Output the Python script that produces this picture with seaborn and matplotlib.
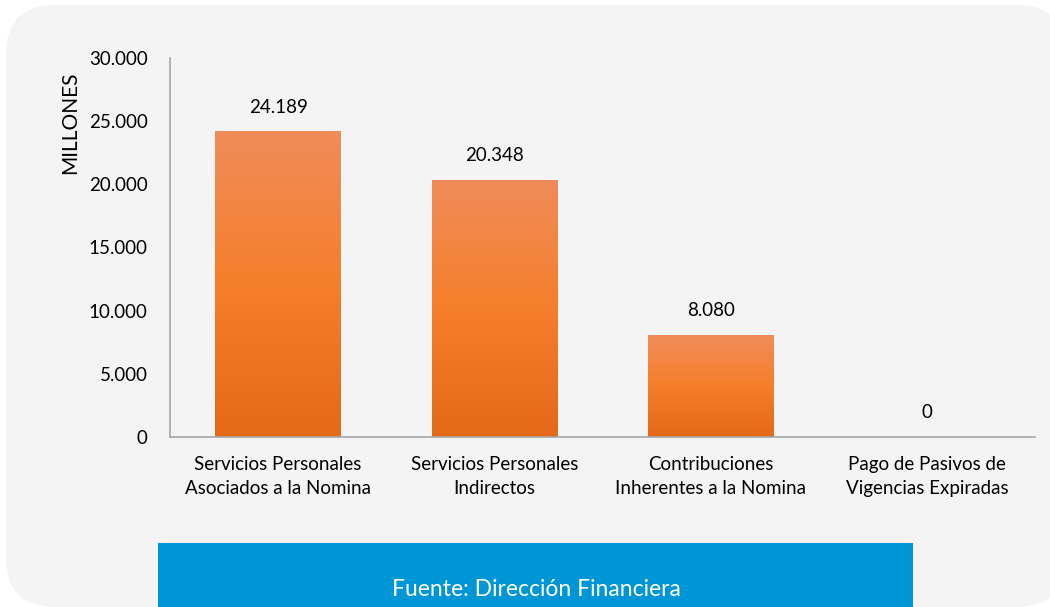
# Gasto de personal por concepto (millones)

import numpy as np
import pandas as pd
import matplotlib.pyplot as plt
import seaborn as sns
from matplotlib.colors import LinearSegmentedColormap
from matplotlib.patches import FancyBboxPatch, Rectangle
from matplotlib.transforms import IdentityTransform


# Daten
categorias = ['Servicios Personales\nAsociados a la Nomina',
              'Servicios Personales\nIndirectos',
              'Contribuciones\nInherentes a la Nomina',
              'Pago de Pasivos de\nVigencias Expiradas']
valores = [24189, 20348, 8080, 0]
y_ticks = [0, 5000, 10000, 15000, 20000, 25000, 30000]

df = pd.DataFrame({'Concepto': categorias, 'Valor': valores})


def punto_miles(v):
    return f'{v:,.0f}'.replace(',', '.')


sns.set_style('white')
plt.rcParams['font.family'] = ['Lato', 'DejaVu Sans']

W, H = 1050, 607
fig = plt.figure(figsize=(W / 100, H / 100), dpi=100)
fig.patch.set_facecolor('white')

# Hintergrund-Panel mit runden Ecken (in Pixeln, Ursprung unten links)
panel = FancyBboxPatch((6, 0), 1060, 602,
                       boxstyle='round,pad=0,rounding_size=50',
                       transform=IdentityTransform(), facecolor='#f4f4f4',
                       edgecolor='none', zorder=-2)
fig.patches.append(panel)

# Quelle-Box
box = Rectangle((158, 0), 913 - 158, 607 - 543,
                transform=IdentityTransform(), facecolor='#0096d6',
                edgecolor='none', zorder=-1)
fig.patches.append(box)
fig.text(536 / W, 1 - 589 / H, 'Fuente: Dirección Financiera', color='white',
         fontsize=16.5, ha='center', va='center', zorder=5)

ax = fig.add_axes([170 / W, 1 - 437 / H, 865 / W, 379 / H])
ax.set_facecolor('none')
ax.set_zorder(1)

sns.barplot(data=df, x='Concepto', y='Valor', color='#f57d28', width=0.58,
            ax=ax, saturation=1)

# Farbverlauf auf den Balken
cmap = LinearSegmentedColormap.from_list('naranja', ['#e46919', '#f57f2a', '#f08c5a'])
grad = np.linspace(0, 1, 256).reshape(-1, 1)
for p in ax.patches:
    x0 = p.get_x()
    h = p.get_height()
    if h <= 0:
        continue
    p.set_facecolor('none')
    im = ax.imshow(grad, extent=[x0, x0 + p.get_width(), 0, h], origin='lower',
                   aspect='auto', cmap=cmap, zorder=2)
    im.set_clip_path(p)

# Beschriftungen der Balken
for i, v in enumerate(valores):
    ax.text(i, v + 1900, punto_miles(v), ha='center', va='center',
            fontsize=13.5, color='black')

ax.set_xlim(-0.5, 3.5)
ax.set_ylim(0, 30000)
ax.set_yticks(y_ticks)
ax.set_yticklabels([punto_miles(t) for t in y_ticks], fontsize=13.5)
ax.tick_params(axis='x', labelsize=13.5, length=0, pad=14, colors='black')
ax.tick_params(axis='y', length=0, pad=16, colors='black')
for lbl in ax.get_xticklabels():
    lbl.set_linespacing(1.45)

ax.set_xlabel('')
ax.set_ylabel('MILLONES', fontsize=15, color='black')
ax.yaxis.set_label_coords(-90 / 865, 0.83)

for s in ['top', 'right']:
    ax.spines[s].set_visible(False)
for s in ['left', 'bottom']:
    ax.spines[s].set_color('#a6a6a6')
    ax.spines[s].set_linewidth(1.2)

plt.savefig('out.png', dpi=100, facecolor=fig.get_facecolor())
